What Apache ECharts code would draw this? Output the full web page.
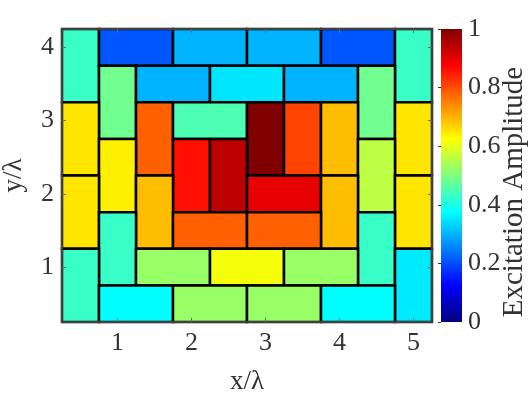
<!DOCTYPE html>
<html>
<head>
<meta charset="utf-8">
<script src="https://cdn.jsdelivr.net/npm/echarts@6/dist/echarts.min.js"></script>
<style>
  html, body { margin: 0; padding: 0; background: #fff; }
  #chart { width: 532px; height: 399px; }
</style>
</head>
<body>
<div id="chart"></div>
<script>
// brick centres (in units of lambda), orientation and excitation amplitude
const brickX = [0.5, 1.25, 2.25, 3.25, 4.25, 5.0, 1.0, 1.75, 2.75, 3.75,
                4.5, 0.5, 1.5, 2.25, 3.0, 3.5, 4.0, 5.0, 1.0, 2.0,
                2.5, 4.5, 0.5, 1.5, 3.25, 4.0, 5.0, 1.0, 2.25, 3.25,
                4.5, 0.5, 1.75, 2.75, 3.75, 5.0, 1.25, 2.25, 3.25, 4.25];
const brickY = [3.75, 4.0, 4.0, 4.0, 4.0, 3.75, 3.25, 3.5, 3.5, 3.5,
                3.25, 2.75, 2.75, 3.0, 2.75, 2.75, 2.75, 2.75, 2.25, 2.25,
                2.25, 2.25, 1.75, 1.75, 2.0, 1.75, 1.75, 1.25, 1.5, 1.5,
                1.25, 0.75, 1.0, 1.0, 1.0, 0.75, 0.5, 0.5, 0.5, 0.5];
const brickDir = ['v', 'h', 'h', 'h', 'h', 'v', 'v', 'h', 'h', 'h',
                  'v', 'v', 'v', 'h', 'v', 'v', 'v', 'v', 'v', 'v',
                  'v', 'v', 'v', 'v', 'h', 'v', 'v', 'v', 'h', 'h',
                  'v', 'v', 'h', 'h', 'h', 'v', 'h', 'h', 'h', 'h'];
const amplitude = [0.43, 0.21, 0.30, 0.30, 0.21, 0.43, 0.485, 0.30, 0.35, 0.30,
                   0.485, 0.65, 0.78, 0.45, 1.0, 0.81, 0.69, 0.65, 0.64, 0.86,
                   0.94, 0.56, 0.65, 0.69, 0.90, 0.69, 0.65, 0.43, 0.78, 0.78,
                   0.43, 0.43, 0.525, 0.615, 0.525, 0.355, 0.375, 0.525, 0.525, 0.375];

const xTicks = [1, 2, 3, 4, 5];
const yTicks = [1, 2, 3, 4];
const cbTicks = [0, 0.2, 0.4, 0.6, 0.8, 1];

// jet colormap sampled every 1/8
const jet = ['#000080', '#0000ff', '#0080ff', '#00ffff', '#80ff80',
             '#ffff00', '#ff8000', '#ff0000', '#800000'];

const font = "'Liberation Serif', 'Times New Roman', serif";
const frame = '#404040';

const chart = echarts.init(document.getElementById('chart'));

const bricks = brickX.map((x, i) => [x, brickY[i], amplitude[i]]);

const mainAxis = (pos, ticks, show) => ({
  type: 'value',
  gridIndex: 0,
  position: pos,
  z: 10,
  splitLine: { show: false },
  axisLine: { show: true, onZero: false, lineStyle: { color: frame, width: 2 } },
  axisTick: { show: true, inside: true, length: 4, customValues: ticks, lineStyle: { color: '#666', width: 1 } },
  axisLabel: { show: show, customValues: ticks, color: '#333', fontFamily: font, fontSize: 26 }
});

const option = {
  animation: false,
  backgroundColor: '#fff',
  grid: [
    { left: 62, top: 29, width: 370, height: 293, outerBoundsMode: 'none', containLabel: false },
    { left: 441, top: 29, width: 21, height: 293, outerBoundsMode: 'none', containLabel: false }
  ],
  // colour bar title (MATLAB places it a bit below the bar centre)
  graphic: [{
    type: 'text',
    x: 529, y: 192,
    rotation: Math.PI / 2,
    style: {
      text: 'Excitation Amplitude',
      fill: '#333',
      font: "29px 'Liberation Serif', 'Times New Roman', serif",
      align: 'center',
      verticalAlign: 'bottom'
    }
  }],
  xAxis: [
    Object.assign(mainAxis('bottom', xTicks, true), {
      min: 0.25, max: 5.25,
      name: 'x/λ', nameLocation: 'middle', nameGap: 46,
      nameTextStyle: { color: '#333', fontFamily: font, fontSize: 27 }
    }),
    Object.assign(mainAxis('top', xTicks, false), { min: 0.25, max: 5.25 }),
    { type: 'value', gridIndex: 1, min: 0, max: 1, show: false }
  ],
  yAxis: [
    Object.assign(mainAxis('left', yTicks, true), {
      min: 0.25, max: 4.25,
      name: 'y/λ', nameLocation: 'middle', nameGap: 35,
      nameTextStyle: { color: '#333', fontFamily: font, fontSize: 27 }
    }),
    Object.assign(mainAxis('right', yTicks, false), { min: 0.25, max: 4.25 }),
    {
      type: 'value', gridIndex: 1, position: 'right', min: 0, max: 1, interval: 0.2,
      z: 10,
      splitLine: { show: false },
      axisLine: { show: false },
      axisTick: { show: true, inside: true, length: 3, lineStyle: { color: '#333' } },
      axisLabel: { color: '#333', fontFamily: font, fontSize: 26, margin: 6,
                   customValues: cbTicks }
    }
  ],
  visualMap: {
    show: false,
    type: 'continuous',
    seriesIndex: 0,
    dimension: 2,
    min: 0, max: 1,
    inRange: { color: jet }
  },
  series: [
    {
      type: 'custom',
      xAxisIndex: 0, yAxisIndex: 0,
      data: bricks,
      renderItem: (params, api) => {
        const horiz = brickDir[params.dataIndex] === 'h';
        const hw = horiz ? 0.5 : 0.25;
        const hh = horiz ? 0.25 : 0.5;
        const p0 = api.coord([api.value(0) - hw, api.value(1) + hh]);
        const p1 = api.coord([api.value(0) + hw, api.value(1) - hh]);
        return {
          type: 'rect',
          shape: { x: p0[0], y: p0[1], width: p1[0] - p0[0], height: p1[1] - p0[1] },
          style: { fill: api.visual('color'), stroke: '#000', lineWidth: 2.5 }
        };
      }
    },
    {
      // colour bar
      type: 'custom',
      xAxisIndex: 2, yAxisIndex: 2,
      data: [[0, 0, 1, 1]],
      renderItem: (params, api) => {
        const p0 = api.coord([api.value(0), api.value(3)]);
        const p1 = api.coord([api.value(2), api.value(1)]);
        return {
          type: 'rect',
          shape: { x: p0[0], y: p0[1], width: p1[0] - p0[0], height: p1[1] - p0[1] },
          style: {
            fill: {
              type: 'linear', x: 0, y: 1, x2: 0, y2: 0,
              colorStops: jet.map((c, i) => ({ offset: i / (jet.length - 1), color: c }))
            }
          }
        };
      }
    }
  ]
};

chart.setOption(option);
</script>
</body>
</html>
